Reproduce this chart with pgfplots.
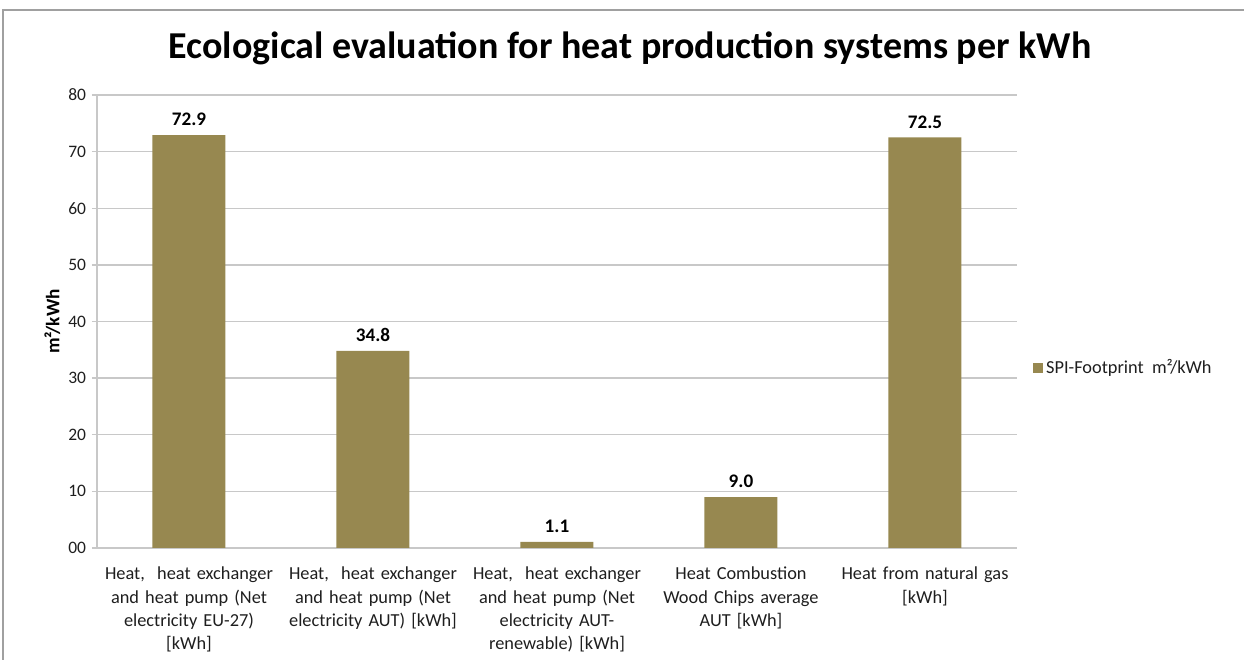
\documentclass[border=0pt]{standalone}
\usepackage{fontspec}
\setmainfont{Carlito}
\usepackage{pgfplots}
\pgfplotsset{compat=1.18}
\definecolor{barcol}{RGB}{151,136,80}
\definecolor{gridcol}{RGB}{200,200,200}
\definecolor{txt}{RGB}{30,30,30}
\begin{document}
\begin{tikzpicture}[x=0.6pt,y=0.6pt]
  % frame of the page (1244 x 660 px, 1 px = 0.6 pt)
  \useasboundingbox (0,0) rectangle (1244,660);
  \draw[gridcol!80!black, line width=1.2pt] (3,0) -- (3,650) -- (1244,650);
  \node[font=\fontsize{22.8}{27}\selectfont\bfseries, text=black] at (630,612) {Ecological evaluation for heat production systems per kWh};
  \begin{axis}[
    at={(58.2pt,67.2pt)}, anchor=south west,
    scale only axis,
    width=552pt, height=271.8pt,
    ybar, bar width=43.8pt,
    xmin=-0.5, xmax=4.5,
    ymin=0, ymax=80,
    ytick={0,10,...,80},
    yticklabels={00,10,20,30,40,50,60,70,80},
    xtick=data,
    xticklabels={
      {Heat,\ \ heat exchanger\\and heat pump (Net\\electricity EU-27)\\{[kWh]}},
      {Heat,\ \ heat exchanger\\and heat pump (Net\\electricity AUT) [kWh]},
      {Heat,\ \ heat exchanger\\and heat pump (Net\\electricity AUT-\\renewable) [kWh]},
      {Heat Combustion\\Wood Chips average\\AUT [kWh]},
      {Heat from natural gas\\{[kWh]}}},
    x tick label style={align=center, text width=110pt, yshift=-5pt,
      font=\fontsize{11}{14}\selectfont, text=txt},
    y tick label style={font=\fontsize{10.5}{12}\selectfont, text=txt},
    /pgf/number format/assume math mode=true,
    axis x line*=bottom, axis y line*=left,
    x axis line style={draw=gridcol, line width=0.8pt},
    y axis line style={draw=gridcol, line width=0.8pt},
    major x tick style={draw=none},
    major y tick style={draw=gridcol, line width=0.8pt},
    tick align=outside, major tick length=3pt,
    ymajorgrids, grid style={draw=gridcol, line width=0.8pt},
    ylabel={m²/kWh},
    ylabel style={font=\fontsize{11.5}{13}\selectfont\bfseries, text=black, yshift=-2pt},
    nodes near coords,
    nodes near coords style={font=\fontsize{11.5}{13}\selectfont\bfseries, text=black, yshift=2pt,
      /pgf/number format/.cd, fixed, fixed zerofill, precision=1, assume math mode=true},
    legend style={at={(1.012,0.397)}, anchor=west, draw=none, fill=none,
      font=\fontsize{11}{13}\selectfont, text=txt},
    legend image code/.code={\fill[barcol] (0cm,-0.1cm) rectangle (0.2cm,0.1cm);},
  ]
    \addplot[fill=barcol, draw=none] coordinates {
      (0,72.9) (1,34.8) (2,1.1) (3,9.0) (4,72.5)
    };
    \addlegendentry{SPI-Footprint\ \ m²/kWh}
  \end{axis}
\end{tikzpicture}
\end{document}
